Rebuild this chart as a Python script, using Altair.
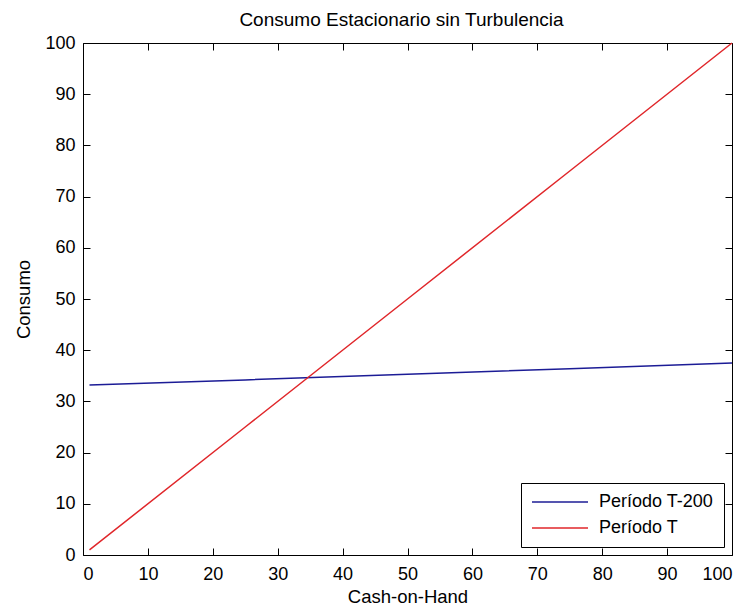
import altair as alt
import pandas as pd

# ---- data ----
series = ["Período T-200", "Período T"]
cash = [1, 25, 50, 75, 100]
consumo_t200 = [33.2, 34.2, 35.3, 36.4, 37.5]
consumo_t = [1, 25, 50, 75, 100]
x_ticks = [0, 10, 20, 30, 40, 50, 60, 70, 80, 90, 100]
y_ticks = [0, 10, 20, 30, 40, 50, 60, 70, 80, 90, 100]
colors = ["#1c1c96", "#e0262a"]

df = pd.DataFrame({
    "cash": cash + cash,
    "consumo": consumo_t200 + consumo_t,
    "serie": [series[0]] * len(cash) + [series[1]] * len(cash),
})

W, H = 649, 512
FONT = "Liberation Sans"
FS = 18

xs = alt.Scale(domain=[0, 100], nice=False, zero=False)
ys = alt.Scale(domain=[0, 100], nice=False, zero=False)

lines = alt.Chart(df).mark_line(strokeWidth=1.5).encode(
    x=alt.X("cash:Q", scale=xs, axis=alt.Axis(
        orient="bottom", values=x_ticks, ticks=False, domain=False, grid=False,
        labelPadding=10, labelFont=FONT, labelFontSize=FS, labelColor="black",
        title="Cash-on-Hand", titleFont=FONT, titleFontSize=18.5, titleFontWeight="normal",
        titleColor="black", titlePadding=4)),
    y=alt.Y("consumo:Q", scale=ys, axis=alt.Axis(
        orient="left", values=y_ticks, ticks=False, domain=False, grid=False,
        labelPadding=8, labelFont=FONT, labelFontSize=FS, labelColor="black",
        title="Consumo", titleFont=FONT, titleFontSize=18.5, titleFontWeight="normal",
        titleColor="black", titlePadding=11)),
    color=alt.Color("serie:N", sort=series,
                    scale=alt.Scale(domain=series, range=colors),
                    legend=alt.Legend(
                        title=None, orient="bottom-right", offset=8,
                        strokeColor="black", fillColor="white", padding=10,
                        symbolType="stroke", symbolSize=3136, symbolStrokeWidth=1.5,
                        labelFont=FONT, labelFontSize=FS, labelColor="black",
                        labelOffset=10, rowPadding=8, clipHeight=18)),
)

tick_style = dict(labels=False, domain=False, grid=False, ticks=True,
                  tickSize=7, tickColor="black", tickWidth=1, title=None)

ticks_a = alt.Chart(df).mark_point(opacity=0).encode(
    x=alt.X("cash:Q", scale=xs, axis=alt.Axis(orient="top", offset=-H, values=x_ticks, **tick_style)),
    y=alt.Y("consumo:Q", scale=ys, axis=alt.Axis(orient="right", offset=-W, values=y_ticks, **tick_style)),
)
ticks_b = alt.Chart(df).mark_point(opacity=0).encode(
    x=alt.X("cash:Q", scale=xs, axis=alt.Axis(orient="bottom", offset=-H, values=x_ticks, **tick_style)),
    y=alt.Y("consumo:Q", scale=ys, axis=alt.Axis(orient="left", offset=-W, values=y_ticks, **tick_style)),
)

chart = alt.layer(lines, ticks_a, ticks_b).resolve_axis(
    x="independent", y="independent"
).properties(
    width=W, height=H,
    title=alt.TitleParams("Consumo Estacionario sin Turbulencia", font=FONT, fontSize=19,
                          fontWeight="normal", color="black", anchor="middle",
                          baseline="bottom", offset=-15, dx=-6, frame="group"),
    autosize=alt.AutoSizeParams(type="none"),
    padding={"left": 83, "top": 43, "right": 14, "bottom": 52},
    background="white",
).configure_view(stroke="black", strokeWidth=1)

chart.save("out.html", embed_options={"renderer": "svg", "actions": False})
